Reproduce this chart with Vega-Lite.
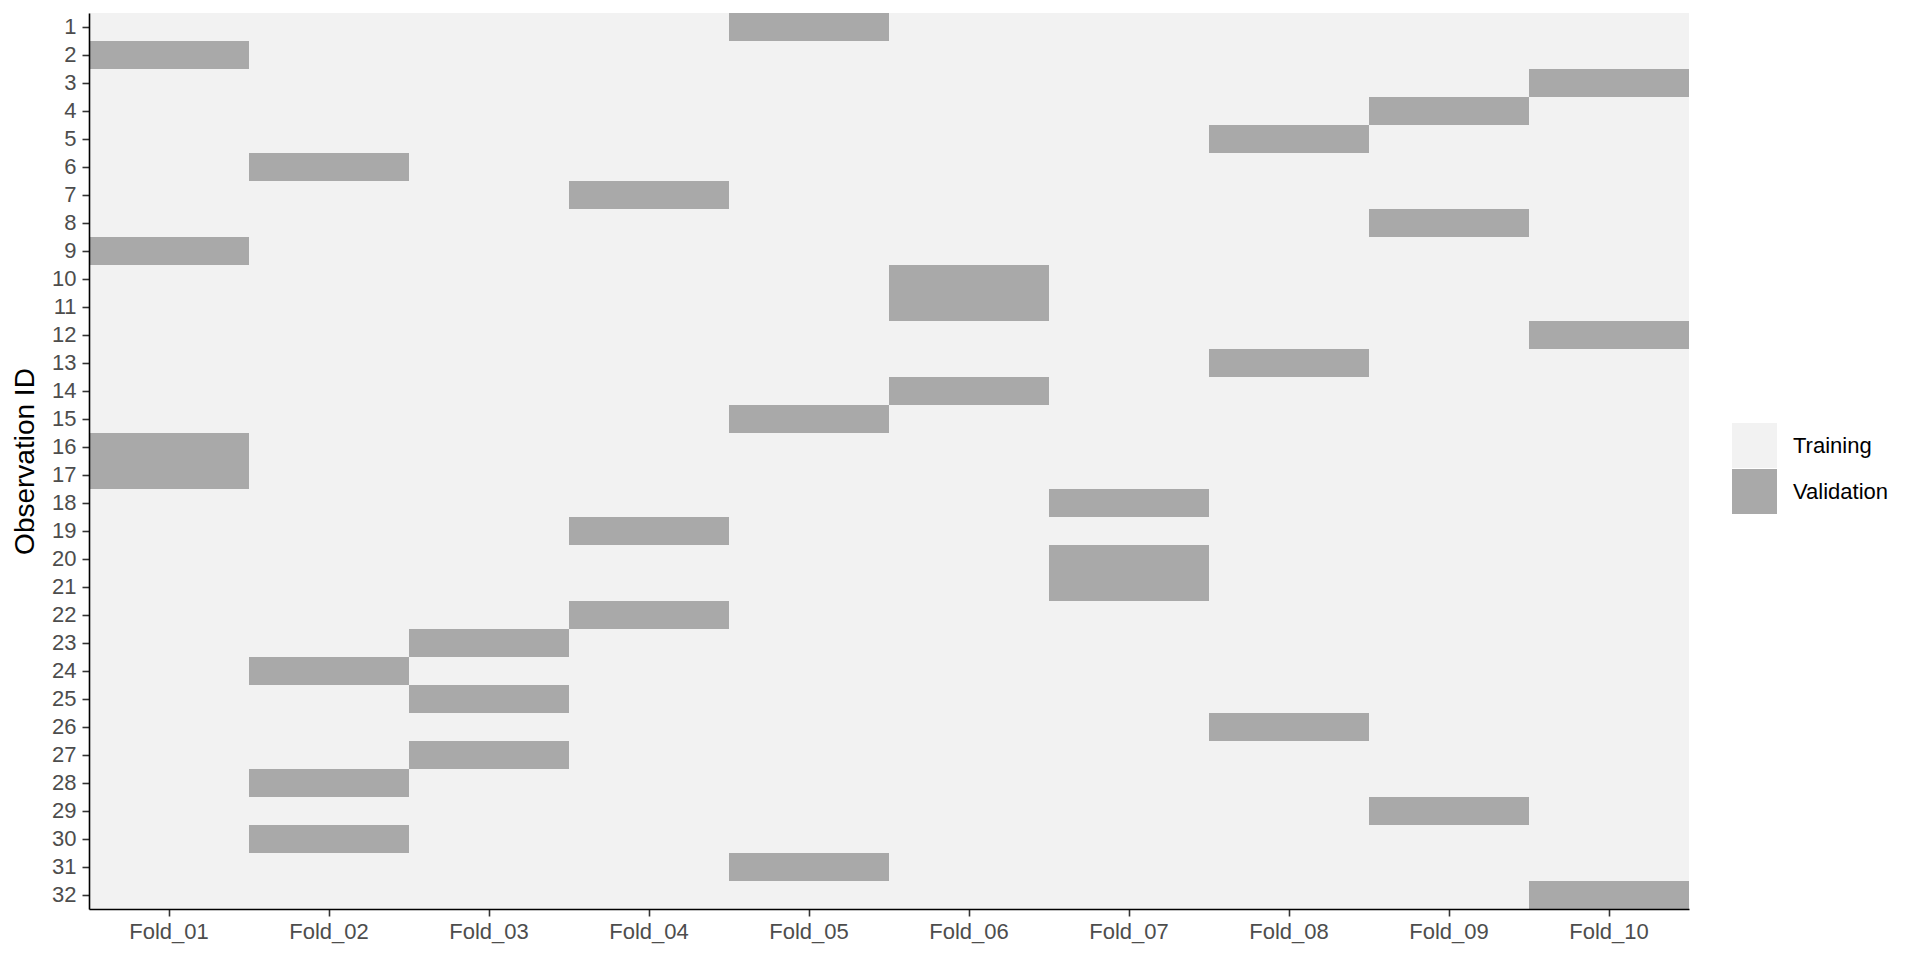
{
  "$schema": "https://vega.github.io/schema/vega-lite/v6.json",
  "width": 1600,
  "height": 896,
  "autosize": "none",
  "padding": {"left": 89, "top": 13, "right": 231, "bottom": 51},
  "background": "white",
  "data": {"values": [
    {"fold":"Fold_01","id":1,"set":"Training"},{"fold":"Fold_01","id":2,"set":"Validation"},{"fold":"Fold_01","id":3,"set":"Training"},{"fold":"Fold_01","id":4,"set":"Training"},{"fold":"Fold_01","id":5,"set":"Training"},{"fold":"Fold_01","id":6,"set":"Training"},{"fold":"Fold_01","id":7,"set":"Training"},{"fold":"Fold_01","id":8,"set":"Training"},{"fold":"Fold_01","id":9,"set":"Validation"},{"fold":"Fold_01","id":10,"set":"Training"},{"fold":"Fold_01","id":11,"set":"Training"},{"fold":"Fold_01","id":12,"set":"Training"},{"fold":"Fold_01","id":13,"set":"Training"},{"fold":"Fold_01","id":14,"set":"Training"},{"fold":"Fold_01","id":15,"set":"Training"},{"fold":"Fold_01","id":16,"set":"Validation"},{"fold":"Fold_01","id":17,"set":"Validation"},{"fold":"Fold_01","id":18,"set":"Training"},{"fold":"Fold_01","id":19,"set":"Training"},{"fold":"Fold_01","id":20,"set":"Training"},{"fold":"Fold_01","id":21,"set":"Training"},{"fold":"Fold_01","id":22,"set":"Training"},{"fold":"Fold_01","id":23,"set":"Training"},{"fold":"Fold_01","id":24,"set":"Training"},{"fold":"Fold_01","id":25,"set":"Training"},{"fold":"Fold_01","id":26,"set":"Training"},{"fold":"Fold_01","id":27,"set":"Training"},{"fold":"Fold_01","id":28,"set":"Training"},{"fold":"Fold_01","id":29,"set":"Training"},{"fold":"Fold_01","id":30,"set":"Training"},{"fold":"Fold_01","id":31,"set":"Training"},{"fold":"Fold_01","id":32,"set":"Training"},
    {"fold":"Fold_02","id":1,"set":"Training"},{"fold":"Fold_02","id":2,"set":"Training"},{"fold":"Fold_02","id":3,"set":"Training"},{"fold":"Fold_02","id":4,"set":"Training"},{"fold":"Fold_02","id":5,"set":"Training"},{"fold":"Fold_02","id":6,"set":"Validation"},{"fold":"Fold_02","id":7,"set":"Training"},{"fold":"Fold_02","id":8,"set":"Training"},{"fold":"Fold_02","id":9,"set":"Training"},{"fold":"Fold_02","id":10,"set":"Training"},{"fold":"Fold_02","id":11,"set":"Training"},{"fold":"Fold_02","id":12,"set":"Training"},{"fold":"Fold_02","id":13,"set":"Training"},{"fold":"Fold_02","id":14,"set":"Training"},{"fold":"Fold_02","id":15,"set":"Training"},{"fold":"Fold_02","id":16,"set":"Training"},{"fold":"Fold_02","id":17,"set":"Training"},{"fold":"Fold_02","id":18,"set":"Training"},{"fold":"Fold_02","id":19,"set":"Training"},{"fold":"Fold_02","id":20,"set":"Training"},{"fold":"Fold_02","id":21,"set":"Training"},{"fold":"Fold_02","id":22,"set":"Training"},{"fold":"Fold_02","id":23,"set":"Training"},{"fold":"Fold_02","id":24,"set":"Validation"},{"fold":"Fold_02","id":25,"set":"Training"},{"fold":"Fold_02","id":26,"set":"Training"},{"fold":"Fold_02","id":27,"set":"Training"},{"fold":"Fold_02","id":28,"set":"Validation"},{"fold":"Fold_02","id":29,"set":"Training"},{"fold":"Fold_02","id":30,"set":"Validation"},{"fold":"Fold_02","id":31,"set":"Training"},{"fold":"Fold_02","id":32,"set":"Training"},
    {"fold":"Fold_03","id":1,"set":"Training"},{"fold":"Fold_03","id":2,"set":"Training"},{"fold":"Fold_03","id":3,"set":"Training"},{"fold":"Fold_03","id":4,"set":"Training"},{"fold":"Fold_03","id":5,"set":"Training"},{"fold":"Fold_03","id":6,"set":"Training"},{"fold":"Fold_03","id":7,"set":"Training"},{"fold":"Fold_03","id":8,"set":"Training"},{"fold":"Fold_03","id":9,"set":"Training"},{"fold":"Fold_03","id":10,"set":"Training"},{"fold":"Fold_03","id":11,"set":"Training"},{"fold":"Fold_03","id":12,"set":"Training"},{"fold":"Fold_03","id":13,"set":"Training"},{"fold":"Fold_03","id":14,"set":"Training"},{"fold":"Fold_03","id":15,"set":"Training"},{"fold":"Fold_03","id":16,"set":"Training"},{"fold":"Fold_03","id":17,"set":"Training"},{"fold":"Fold_03","id":18,"set":"Training"},{"fold":"Fold_03","id":19,"set":"Training"},{"fold":"Fold_03","id":20,"set":"Training"},{"fold":"Fold_03","id":21,"set":"Training"},{"fold":"Fold_03","id":22,"set":"Training"},{"fold":"Fold_03","id":23,"set":"Validation"},{"fold":"Fold_03","id":24,"set":"Training"},{"fold":"Fold_03","id":25,"set":"Validation"},{"fold":"Fold_03","id":26,"set":"Training"},{"fold":"Fold_03","id":27,"set":"Validation"},{"fold":"Fold_03","id":28,"set":"Training"},{"fold":"Fold_03","id":29,"set":"Training"},{"fold":"Fold_03","id":30,"set":"Training"},{"fold":"Fold_03","id":31,"set":"Training"},{"fold":"Fold_03","id":32,"set":"Training"},
    {"fold":"Fold_04","id":1,"set":"Training"},{"fold":"Fold_04","id":2,"set":"Training"},{"fold":"Fold_04","id":3,"set":"Training"},{"fold":"Fold_04","id":4,"set":"Training"},{"fold":"Fold_04","id":5,"set":"Training"},{"fold":"Fold_04","id":6,"set":"Training"},{"fold":"Fold_04","id":7,"set":"Validation"},{"fold":"Fold_04","id":8,"set":"Training"},{"fold":"Fold_04","id":9,"set":"Training"},{"fold":"Fold_04","id":10,"set":"Training"},{"fold":"Fold_04","id":11,"set":"Training"},{"fold":"Fold_04","id":12,"set":"Training"},{"fold":"Fold_04","id":13,"set":"Training"},{"fold":"Fold_04","id":14,"set":"Training"},{"fold":"Fold_04","id":15,"set":"Training"},{"fold":"Fold_04","id":16,"set":"Training"},{"fold":"Fold_04","id":17,"set":"Training"},{"fold":"Fold_04","id":18,"set":"Training"},{"fold":"Fold_04","id":19,"set":"Validation"},{"fold":"Fold_04","id":20,"set":"Training"},{"fold":"Fold_04","id":21,"set":"Training"},{"fold":"Fold_04","id":22,"set":"Validation"},{"fold":"Fold_04","id":23,"set":"Training"},{"fold":"Fold_04","id":24,"set":"Training"},{"fold":"Fold_04","id":25,"set":"Training"},{"fold":"Fold_04","id":26,"set":"Training"},{"fold":"Fold_04","id":27,"set":"Training"},{"fold":"Fold_04","id":28,"set":"Training"},{"fold":"Fold_04","id":29,"set":"Training"},{"fold":"Fold_04","id":30,"set":"Training"},{"fold":"Fold_04","id":31,"set":"Training"},{"fold":"Fold_04","id":32,"set":"Training"},
    {"fold":"Fold_05","id":1,"set":"Validation"},{"fold":"Fold_05","id":2,"set":"Training"},{"fold":"Fold_05","id":3,"set":"Training"},{"fold":"Fold_05","id":4,"set":"Training"},{"fold":"Fold_05","id":5,"set":"Training"},{"fold":"Fold_05","id":6,"set":"Training"},{"fold":"Fold_05","id":7,"set":"Training"},{"fold":"Fold_05","id":8,"set":"Training"},{"fold":"Fold_05","id":9,"set":"Training"},{"fold":"Fold_05","id":10,"set":"Training"},{"fold":"Fold_05","id":11,"set":"Training"},{"fold":"Fold_05","id":12,"set":"Training"},{"fold":"Fold_05","id":13,"set":"Training"},{"fold":"Fold_05","id":14,"set":"Training"},{"fold":"Fold_05","id":15,"set":"Validation"},{"fold":"Fold_05","id":16,"set":"Training"},{"fold":"Fold_05","id":17,"set":"Training"},{"fold":"Fold_05","id":18,"set":"Training"},{"fold":"Fold_05","id":19,"set":"Training"},{"fold":"Fold_05","id":20,"set":"Training"},{"fold":"Fold_05","id":21,"set":"Training"},{"fold":"Fold_05","id":22,"set":"Training"},{"fold":"Fold_05","id":23,"set":"Training"},{"fold":"Fold_05","id":24,"set":"Training"},{"fold":"Fold_05","id":25,"set":"Training"},{"fold":"Fold_05","id":26,"set":"Training"},{"fold":"Fold_05","id":27,"set":"Training"},{"fold":"Fold_05","id":28,"set":"Training"},{"fold":"Fold_05","id":29,"set":"Training"},{"fold":"Fold_05","id":30,"set":"Training"},{"fold":"Fold_05","id":31,"set":"Validation"},{"fold":"Fold_05","id":32,"set":"Training"},
    {"fold":"Fold_06","id":1,"set":"Training"},{"fold":"Fold_06","id":2,"set":"Training"},{"fold":"Fold_06","id":3,"set":"Training"},{"fold":"Fold_06","id":4,"set":"Training"},{"fold":"Fold_06","id":5,"set":"Training"},{"fold":"Fold_06","id":6,"set":"Training"},{"fold":"Fold_06","id":7,"set":"Training"},{"fold":"Fold_06","id":8,"set":"Training"},{"fold":"Fold_06","id":9,"set":"Training"},{"fold":"Fold_06","id":10,"set":"Validation"},{"fold":"Fold_06","id":11,"set":"Validation"},{"fold":"Fold_06","id":12,"set":"Training"},{"fold":"Fold_06","id":13,"set":"Training"},{"fold":"Fold_06","id":14,"set":"Validation"},{"fold":"Fold_06","id":15,"set":"Training"},{"fold":"Fold_06","id":16,"set":"Training"},{"fold":"Fold_06","id":17,"set":"Training"},{"fold":"Fold_06","id":18,"set":"Training"},{"fold":"Fold_06","id":19,"set":"Training"},{"fold":"Fold_06","id":20,"set":"Training"},{"fold":"Fold_06","id":21,"set":"Training"},{"fold":"Fold_06","id":22,"set":"Training"},{"fold":"Fold_06","id":23,"set":"Training"},{"fold":"Fold_06","id":24,"set":"Training"},{"fold":"Fold_06","id":25,"set":"Training"},{"fold":"Fold_06","id":26,"set":"Training"},{"fold":"Fold_06","id":27,"set":"Training"},{"fold":"Fold_06","id":28,"set":"Training"},{"fold":"Fold_06","id":29,"set":"Training"},{"fold":"Fold_06","id":30,"set":"Training"},{"fold":"Fold_06","id":31,"set":"Training"},{"fold":"Fold_06","id":32,"set":"Training"},
    {"fold":"Fold_07","id":1,"set":"Training"},{"fold":"Fold_07","id":2,"set":"Training"},{"fold":"Fold_07","id":3,"set":"Training"},{"fold":"Fold_07","id":4,"set":"Training"},{"fold":"Fold_07","id":5,"set":"Training"},{"fold":"Fold_07","id":6,"set":"Training"},{"fold":"Fold_07","id":7,"set":"Training"},{"fold":"Fold_07","id":8,"set":"Training"},{"fold":"Fold_07","id":9,"set":"Training"},{"fold":"Fold_07","id":10,"set":"Training"},{"fold":"Fold_07","id":11,"set":"Training"},{"fold":"Fold_07","id":12,"set":"Training"},{"fold":"Fold_07","id":13,"set":"Training"},{"fold":"Fold_07","id":14,"set":"Training"},{"fold":"Fold_07","id":15,"set":"Training"},{"fold":"Fold_07","id":16,"set":"Training"},{"fold":"Fold_07","id":17,"set":"Training"},{"fold":"Fold_07","id":18,"set":"Validation"},{"fold":"Fold_07","id":19,"set":"Training"},{"fold":"Fold_07","id":20,"set":"Validation"},{"fold":"Fold_07","id":21,"set":"Validation"},{"fold":"Fold_07","id":22,"set":"Training"},{"fold":"Fold_07","id":23,"set":"Training"},{"fold":"Fold_07","id":24,"set":"Training"},{"fold":"Fold_07","id":25,"set":"Training"},{"fold":"Fold_07","id":26,"set":"Training"},{"fold":"Fold_07","id":27,"set":"Training"},{"fold":"Fold_07","id":28,"set":"Training"},{"fold":"Fold_07","id":29,"set":"Training"},{"fold":"Fold_07","id":30,"set":"Training"},{"fold":"Fold_07","id":31,"set":"Training"},{"fold":"Fold_07","id":32,"set":"Training"},
    {"fold":"Fold_08","id":1,"set":"Training"},{"fold":"Fold_08","id":2,"set":"Training"},{"fold":"Fold_08","id":3,"set":"Training"},{"fold":"Fold_08","id":4,"set":"Training"},{"fold":"Fold_08","id":5,"set":"Validation"},{"fold":"Fold_08","id":6,"set":"Training"},{"fold":"Fold_08","id":7,"set":"Training"},{"fold":"Fold_08","id":8,"set":"Training"},{"fold":"Fold_08","id":9,"set":"Training"},{"fold":"Fold_08","id":10,"set":"Training"},{"fold":"Fold_08","id":11,"set":"Training"},{"fold":"Fold_08","id":12,"set":"Training"},{"fold":"Fold_08","id":13,"set":"Validation"},{"fold":"Fold_08","id":14,"set":"Training"},{"fold":"Fold_08","id":15,"set":"Training"},{"fold":"Fold_08","id":16,"set":"Training"},{"fold":"Fold_08","id":17,"set":"Training"},{"fold":"Fold_08","id":18,"set":"Training"},{"fold":"Fold_08","id":19,"set":"Training"},{"fold":"Fold_08","id":20,"set":"Training"},{"fold":"Fold_08","id":21,"set":"Training"},{"fold":"Fold_08","id":22,"set":"Training"},{"fold":"Fold_08","id":23,"set":"Training"},{"fold":"Fold_08","id":24,"set":"Training"},{"fold":"Fold_08","id":25,"set":"Training"},{"fold":"Fold_08","id":26,"set":"Validation"},{"fold":"Fold_08","id":27,"set":"Training"},{"fold":"Fold_08","id":28,"set":"Training"},{"fold":"Fold_08","id":29,"set":"Training"},{"fold":"Fold_08","id":30,"set":"Training"},{"fold":"Fold_08","id":31,"set":"Training"},{"fold":"Fold_08","id":32,"set":"Training"},
    {"fold":"Fold_09","id":1,"set":"Training"},{"fold":"Fold_09","id":2,"set":"Training"},{"fold":"Fold_09","id":3,"set":"Training"},{"fold":"Fold_09","id":4,"set":"Validation"},{"fold":"Fold_09","id":5,"set":"Training"},{"fold":"Fold_09","id":6,"set":"Training"},{"fold":"Fold_09","id":7,"set":"Training"},{"fold":"Fold_09","id":8,"set":"Validation"},{"fold":"Fold_09","id":9,"set":"Training"},{"fold":"Fold_09","id":10,"set":"Training"},{"fold":"Fold_09","id":11,"set":"Training"},{"fold":"Fold_09","id":12,"set":"Training"},{"fold":"Fold_09","id":13,"set":"Training"},{"fold":"Fold_09","id":14,"set":"Training"},{"fold":"Fold_09","id":15,"set":"Training"},{"fold":"Fold_09","id":16,"set":"Training"},{"fold":"Fold_09","id":17,"set":"Training"},{"fold":"Fold_09","id":18,"set":"Training"},{"fold":"Fold_09","id":19,"set":"Training"},{"fold":"Fold_09","id":20,"set":"Training"},{"fold":"Fold_09","id":21,"set":"Training"},{"fold":"Fold_09","id":22,"set":"Training"},{"fold":"Fold_09","id":23,"set":"Training"},{"fold":"Fold_09","id":24,"set":"Training"},{"fold":"Fold_09","id":25,"set":"Training"},{"fold":"Fold_09","id":26,"set":"Training"},{"fold":"Fold_09","id":27,"set":"Training"},{"fold":"Fold_09","id":28,"set":"Training"},{"fold":"Fold_09","id":29,"set":"Validation"},{"fold":"Fold_09","id":30,"set":"Training"},{"fold":"Fold_09","id":31,"set":"Training"},{"fold":"Fold_09","id":32,"set":"Training"},
    {"fold":"Fold_10","id":1,"set":"Training"},{"fold":"Fold_10","id":2,"set":"Training"},{"fold":"Fold_10","id":3,"set":"Validation"},{"fold":"Fold_10","id":4,"set":"Training"},{"fold":"Fold_10","id":5,"set":"Training"},{"fold":"Fold_10","id":6,"set":"Training"},{"fold":"Fold_10","id":7,"set":"Training"},{"fold":"Fold_10","id":8,"set":"Training"},{"fold":"Fold_10","id":9,"set":"Training"},{"fold":"Fold_10","id":10,"set":"Training"},{"fold":"Fold_10","id":11,"set":"Training"},{"fold":"Fold_10","id":12,"set":"Validation"},{"fold":"Fold_10","id":13,"set":"Training"},{"fold":"Fold_10","id":14,"set":"Training"},{"fold":"Fold_10","id":15,"set":"Training"},{"fold":"Fold_10","id":16,"set":"Training"},{"fold":"Fold_10","id":17,"set":"Training"},{"fold":"Fold_10","id":18,"set":"Training"},{"fold":"Fold_10","id":19,"set":"Training"},{"fold":"Fold_10","id":20,"set":"Training"},{"fold":"Fold_10","id":21,"set":"Training"},{"fold":"Fold_10","id":22,"set":"Training"},{"fold":"Fold_10","id":23,"set":"Training"},{"fold":"Fold_10","id":24,"set":"Training"},{"fold":"Fold_10","id":25,"set":"Training"},{"fold":"Fold_10","id":26,"set":"Training"},{"fold":"Fold_10","id":27,"set":"Training"},{"fold":"Fold_10","id":28,"set":"Training"},{"fold":"Fold_10","id":29,"set":"Training"},{"fold":"Fold_10","id":30,"set":"Training"},{"fold":"Fold_10","id":31,"set":"Training"},{"fold":"Fold_10","id":32,"set":"Validation"}
  ]},
  "mark": {"type": "rect", "strokeWidth": 0},
  "encoding": {
    "x": {"field": "fold", "type": "nominal", "title": null, "sort": "ascending",
      "scale": {"paddingInner": 0, "paddingOuter": 0},
      "axis": {"labelAngle": 0, "labelPadding": 5}},
    "y": {"field": "id", "type": "ordinal", "title": "Observation ID", "sort": "ascending",
      "scale": {"paddingInner": 0, "paddingOuter": 0},
      "axis": {"labelPadding": 6, "titlePadding": 12}},
    "fill": {"field": "set", "type": "nominal", "title": null,
      "scale": {"domain": ["Training", "Validation"], "range": ["#F2F2F2", "#A9A9A9"]},
      "legend": {"orient": "none", "legendX": 1643, "legendY": 410, "padding": 0,
        "symbolType": "square", "symbolSize": 2025, "symbolStrokeWidth": 0, "symbolOpacity": 1,
        "rowPadding": 1, "labelOffset": 16, "labelFontSize": 22, "labelColor": "#000000",
        "labelFont": "Liberation Sans"}}
  },
  "config": {
    "view": {"stroke": null},
    "font": "Liberation Sans",
    "axis": {
      "grid": false,
      "domainColor": "#000000", "domainWidth": 1.6,
      "tickColor": "#333333", "tickWidth": 1.6, "tickSize": 7,
      "labelFont": "Liberation Sans", "labelFontSize": 22, "labelColor": "#4D4D4D",
      "titleFont": "Liberation Sans", "titleFontSize": 28, "titleFontWeight": "normal", "titleColor": "#000000"
    }
  }
}
